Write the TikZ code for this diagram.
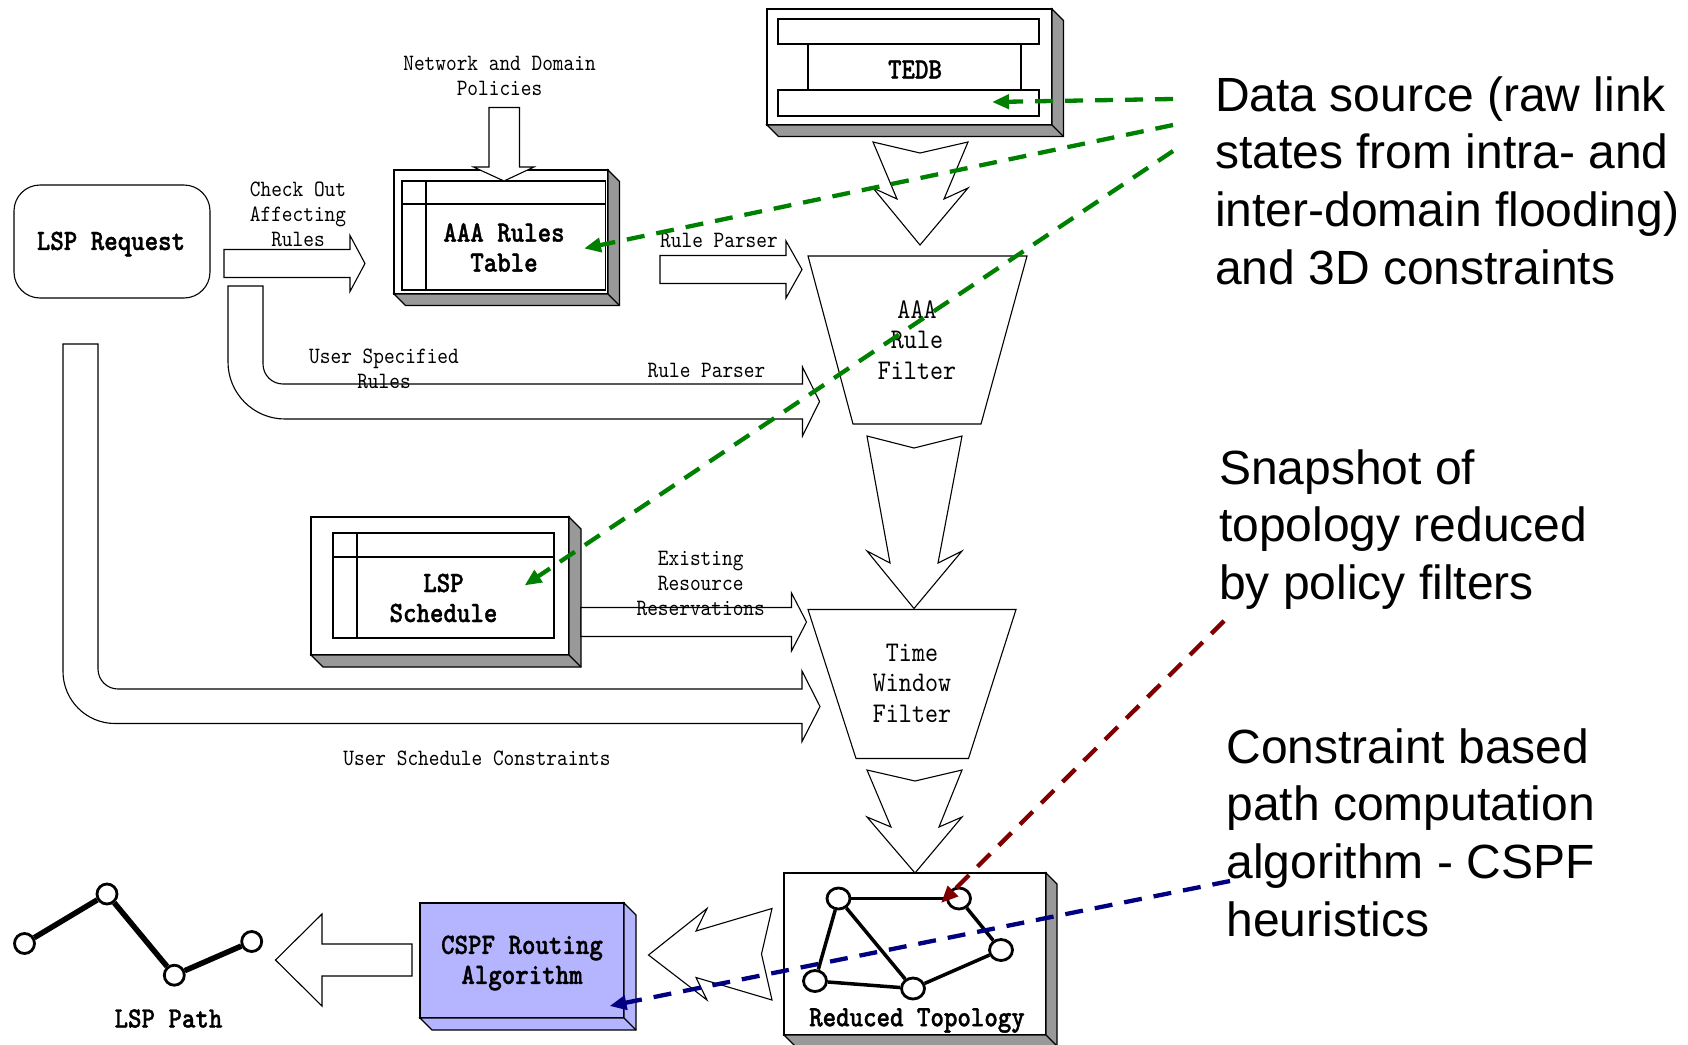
\documentclass[tikz,border=0pt]{standalone}
\usepackage{fontspec}
\usetikzlibrary{calc,arrows.meta,shapes.geometric}

% Fonts: narrow typewriter labels and sans-serif notes
\newfontfamily\monolabel[FakeStretch=0.87]{lmmono10-regular.otf}
\newfontfamily\monolabelbold[FakeStretch=0.87,FakeBold=1.2]{lmmonolt10-bold.otf}
\newfontfamily\notesans{Liberation Sans}
\newcommand\lblfont{\monolabel\fontsize{23.4}{24.8}\selectfont}
\newcommand\boldlblfont{\monolabelbold\fontsize{29.5}{30}\selectfont}
\newcommand\filterfont{\monolabel\fontsize{28.5}{30.5}\selectfont}
\newcommand\notefont{\notesans\fontsize{48}{57.6}\selectfont}

\definecolor{shade}{HTML}{999999}
\definecolor{lavender}{HTML}{B4B4FF}
\definecolor{srcgreen}{HTML}{008000}
\definecolor{snapred}{HTML}{800000}
\definecolor{cspfblue}{HTML}{000080}

% 3D side faces below and right of a box node: #1 node, #2 depth, #3 fill
\newcommand\dropshade[3]{%
  \draw[fill=#3] (#1.north east) -- ++(#2,#2) -- ($(#1.south east)+(#2,#2)$)
    -- ($(#1.south west)+(#2,#2)$) -- (#1.south west) -- (#1.south east) -- cycle;
  \draw (#1.south east) -- ++(#2,#2);}

\begin{document}
\begin{tikzpicture}[x=1pt,y=-1pt,line width=1.1pt,
  frame/.style={draw, fill=white, inner sep=0pt, outer sep=0pt, line width=1.1pt},
  blockarrow/.style={draw, fill=white, line width=1.1pt, line join=miter},
  lbl/.style={font=\lblfont, align=center, inner sep=0pt},
  boldlbl/.style={font=\boldlblfont, align=center, inner sep=0pt},
  filterlbl/.style={font=\filterfont, align=center, inner sep=0pt},
  note/.style={font=\notefont, align=left, inner sep=0pt, anchor=north west},
  toponode/.style={ellipse, draw, fill=white, line width=2.8pt, minimum width=23pt, minimum height=21pt, inner sep=0pt},
  pathnode/.style={circle, draw, fill=white, line width=2.8pt, minimum size=20pt, inner sep=0pt},
  topoedge/.style={line width=3.5pt},
  pathedge/.style={line width=5.5pt},
  pointer/.style={line width=4.3pt, dash pattern=on 18pt off 12pt, -{Triangle[length=17pt,width=14pt]}}
]
\useasboundingbox (0,0) rectangle (1688,1044);

% ---------- TEDB ----------
\node[frame, minimum width=285pt, minimum height=116pt] (tedb) at (909.5,67) {};
\dropshade{tedb}{11.5}{shade}
\node[frame, minimum width=261pt, minimum height=25pt] (tedbtop) at (908.5,31.5) {};
\node[frame, minimum width=261pt, minimum height=26pt] (tedbbot) at (908.5,103) {};
\node[frame, minimum width=213pt, minimum height=46pt] (tedbdb) at (914.5,67) {};
\node[boldlbl] (tedbtext) at (915,69.5) {TEDB};

% ---------- AAA Rules Table ----------
\node[frame, minimum width=214pt, minimum height=124pt] (aaa) at (501,232) {};
\dropshade{aaa}{11.5}{shade}
\node[frame, minimum width=203.5pt, minimum height=109pt] (aaatab) at (503.75,235.5) {};
\draw ($(aaatab.north west)+(24,0)$) -- ($(aaatab.south west)+(24,0)$);
\draw ($(aaatab.north west)+(0,23)$) -- ($(aaatab.north east)+(0,23)$);
\node[boldlbl] (aaatext) at (504,247.5) {AAA Rules\\Table};

% ---------- LSP Schedule ----------
\node[frame, minimum width=258pt, minimum height=138pt] (sched) at (440,586) {};
\dropshade{sched}{12}{shade}
\node[frame, minimum width=221pt, minimum height=105pt] (schedtab) at (443.5,585.5) {};
\draw ($(schedtab.north west)+(24,0)$) -- ($(schedtab.south west)+(24,0)$);
\draw ($(schedtab.north west)+(0,24)$) -- ($(schedtab.north east)+(0,24)$);
\node[boldlbl] (schedtext) at (443.5,598) {LSP\\Schedule};

% ---------- CSPF Routing Algorithm ----------
\node[frame, fill=lavender, minimum width=204pt, minimum height=115pt] (cspf) at (522,960.5) {};
\dropshade{cspf}{12}{lavender}
\node[boldlbl] (cspftext) at (522,963) {CSPF Routing\\Algorithm};

% ---------- Reduced Topology ----------
\node[frame, minimum width=262pt, minimum height=162pt] (topo) at (915,954) {};
\dropshade{topo}{11}{shade}
\node[boldlbl] (topotext) at (917,1020.5) {Reduced Topology};
\node[toponode] (n1) at (838.5,898.5) {};
\node[toponode] (n2) at (959,898.5) {};
\node[toponode] (n3) at (1001,950) {};
\node[toponode] (n4) at (913,988.5) {};
\node[toponode] (n5) at (815,981) {};
\draw[topoedge] (n1) -- (n2);
\draw[topoedge] (n1) -- (n5);
\draw[topoedge] (n1) -- (n4);
\draw[topoedge] (n2) -- (n3);
\draw[topoedge] (n3) -- (n4);
\draw[topoedge] (n4) -- (n5);

% ---------- LSP Request ----------
\node[frame, rounded corners=26pt, minimum width=196pt, minimum height=113pt] (req) at (112,241.5) {};
\node[boldlbl] (reqtext) at (111,244) {LSP Request};

% ---------- Filters ----------
\draw[blockarrow] (808,256) -- (1027,256) -- (981,424) -- (853,424) -- cycle;
\node[filterlbl] (aaafilter) at (917,340) {AAA\\Rule\\Filter};
\draw[blockarrow] (808,609.5) -- (1016,609.5) -- (968.5,758.5) -- (856,758.5) -- cycle;
\node[filterlbl] (timefilter) at (912,683.3) {Time\\Window\\Filter};

% ---------- Notched flow arrows ----------
\draw[blockarrow] (873,142) -- (920,153) -- (968,142) -- (944,199) -- (968,188) -- (920,245) -- (873,188) -- (897,199) -- cycle;
\draw[blockarrow] (867,436) -- (914,448) -- (962,436) -- (938,563) -- (962,551) -- (914,608.5) -- (867,551) -- (890,563) -- cycle;
\draw[blockarrow] (867,770) -- (915,781) -- (962,770) -- (939,827) -- (962,817) -- (915,873) -- (867,817) -- (891,827) -- cycle;
\draw[blockarrow] (648.5,955) -- (707,908.5) -- (696,931) -- (772,908.5) -- (761.5,954) -- (772,1000) -- (696,977.5) -- (707,1000) -- cycle;

% ---------- Block arrows ----------
% policies into the rules table
\draw[blockarrow] (489,107.5) -- (519.5,107.5) -- (519.5,167) -- (534,167) -- (504,181) -- (473.5,167) -- (489,167) -- cycle;
% check out affecting rules
\draw[blockarrow] (224,249.5) -- (350,249.5) -- (350,235.5) -- (365,263.5) -- (350,291.5) -- (350,277.5) -- (224,277.5) -- cycle;
% rule parser from the rules table
\draw[blockarrow] (660,255.5) -- (786,255.5) -- (786,241) -- (802,269.5) -- (786,298) -- (786,283.5) -- (660,283.5) -- cycle;
% user specified rules
\draw[blockarrow] (263,286) -- (263,364) arc[start angle=180, end angle=90, radius=20]
  -- (802.5,384) -- (802.5,367) -- (819.5,401.5) -- (802.5,436) -- (802.5,419)
  -- (285,419) arc[start angle=90, end angle=180, radius=57] -- (228,286) -- cycle;
% user schedule constraints
\draw[blockarrow] (98,344) -- (98,669) arc[start angle=180, end angle=90, radius=20]
  -- (802,689) -- (802,671) -- (820,706.5) -- (802,741.5) -- (802,723.5)
  -- (115,723.5) arc[start angle=90, end angle=180, radius=52] -- (63,344) -- cycle;
% existing resource reservations
\draw[blockarrow] (581,607.5) -- (791.5,607.5) -- (791.5,593) -- (806.5,622) -- (791.5,651) -- (791.5,636.5) -- (581,636.5) -- cycle;
% result path
\draw[blockarrow] (412,944) -- (322,944) -- (322,914) -- (275.5,960) -- (322,1006) -- (322,976) -- (412,976) -- cycle;

% ---------- Labels ----------
\node[lbl] (policies) at (499.5,76) {Network and Domain\\Policies};
\node[lbl] (checkout) at (298,214.5) {Check Out\\Affecting\\Rules};
\node[lbl] (parser1) at (719,240.5) {Rule Parser};
\node[lbl] (userrules) at (384,369) {User Specified\\Rules};
\node[lbl] (parser2) at (706.5,370) {Rule Parser};
\node[lbl] (existing) at (700.7,583.3) {Existing\\Resource\\Reservations};
\node[lbl] (schedcons) at (477,758.5) {User Schedule Constraints};

% ---------- LSP Path ----------
\node[pathnode] (p1) at (24.5,943.5) {};
\node[pathnode] (p2) at (107,894) {};
\node[pathnode] (p3) at (174.3,975.2) {};
\node[pathnode] (p4) at (251.7,941.5) {};
\draw[pathedge] (p1) -- (p2);
\draw[pathedge] (p2) -- (p3);
\draw[pathedge] (p3) -- (p4);
\node[boldlbl] (pathtext) at (168.5,1018.5) {LSP Path};

% ---------- Notes ----------
\node[note] (srcnote) at (1214.5,76) {Data source (raw link\\states from intra- and\\inter-domain flooding)\\and 3D constraints};
\node[note] (snapnote) at (1218.5,449) {Snapshot of\\topology reduced\\by policy filters};
\node[note] (cspfnote) at (1226,728) {Constraint based\\path computation\\algorithm - CSPF\\heuristics};

% ---------- Dashed pointers ----------
\coordinate (srcA) at (1173,99);
\coordinate (srcB) at (1173,125);
\coordinate (srcC) at (1173,151);
\coordinate (snapS) at (1224,621);
\coordinate (cspfS) at (1230,881);
\coordinate (tedbTip) at (992,102);
\coordinate (aaaTip) at (584,248.5);
\coordinate (schedTip) at (524.5,585.5);
\coordinate (topoTip) at (941,903);
\coordinate (cspfTip) at (609.5,1006);
\draw[pointer, srcgreen] (srcA) -- (tedbTip);
\draw[pointer, srcgreen] (srcB) -- (aaaTip);
\draw[pointer, srcgreen] (srcC) -- (schedTip);
\draw[pointer, snapred] (snapS) -- (topoTip);
\draw[pointer, cspfblue] (cspfS) -- (cspfTip);
\end{tikzpicture}
\end{document}
